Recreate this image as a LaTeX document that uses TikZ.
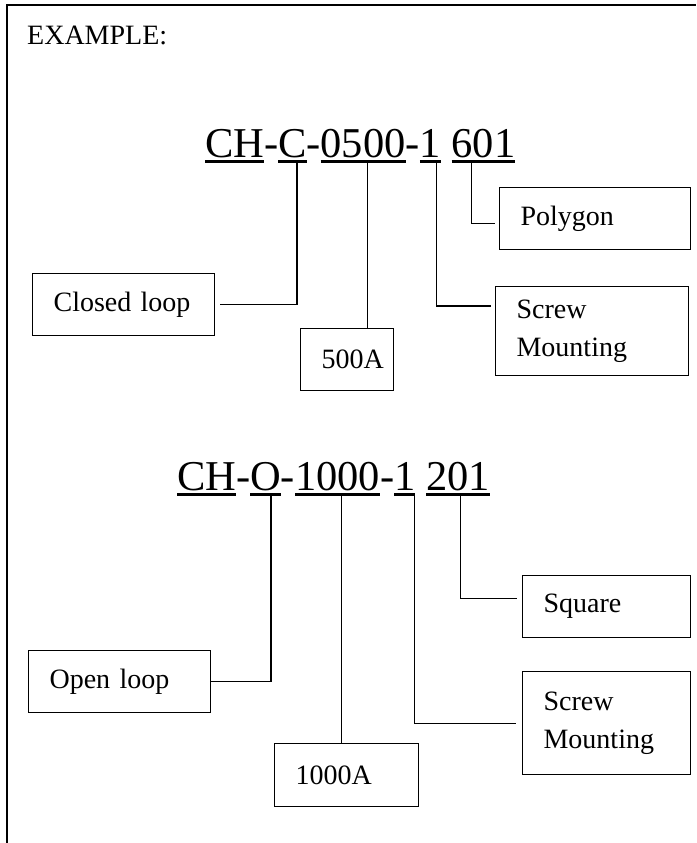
\documentclass[tikz,border=0pt]{standalone}
\usepackage{fontspec}
\setmainfont{Liberation Serif}
\usetikzlibrary{calc}
\begin{document}
\begin{tikzpicture}[x=1pt,y=-1pt,
  frame/.style={line width=2pt},
  lbl/.style={draw, line width=1.2pt, anchor=north west, inner ysep=0pt, inner xsep=21pt,
    align=left, font=\fontsize{28}{38}\selectfont},
  code/.style={anchor=base west, inner sep=0pt, outer sep=0pt,
    font=\fontsize{42.5}{50}\selectfont},
  ul/.style={line width=2.4pt},
  conn/.style={line width=1.2pt},
]
\useasboundingbox (0,0) rectangle (696,843);
\draw[frame] (6.5,843) -- (6.5,5) -- (696,5);
\node[anchor=base west, inner sep=0pt, font=\fontsize{28}{34}\selectfont] (title) at (27,45) {EXAMPLE:};

% ---------- first code ----------
\node[code] (a1) at (205,157) {CH};
\node[code] (a2) at (a1.base east) {-};
\node[code] (a3) at (a2.base east) {C};
\node[code] (a4) at (a3.base east) {-};
\node[code] (a5) at (a4.base east) {0500};
\node[code] (a6) at (a5.base east) {-};
\node[code] (a7) at (a6.base east) {1};
\node[code] (a8) at ([xshift=10.6pt]a7.base east) {601};
\foreach \n in {a1,a3,a5,a7,a8}
  \draw[ul] ([yshift=-4.5pt]\n.base west) -- ([yshift=-4.5pt]\n.base east);

\node[lbl, text width=149pt, minimum height=62pt] (poly) at (499,187) {Polygon};
\node[lbl, text width=140pt, minimum height=62pt] (cl) at (32,273) {Closed loop};
\node[lbl, text width=151pt, minimum height=89pt] (sm1) at (495,286) {Screw\\Mounting};
\node[lbl, text width=51pt, minimum height=62pt] (b500) at (300,328) {500A};

\coordinate (pC) at ($([yshift=-4.5pt]a3.base west)!0.66!([yshift=-4.5pt]a3.base east)$);
\coordinate (p0500) at ($([yshift=-4.5pt]a5.base west)!0.55!([yshift=-4.5pt]a5.base east)$);
\coordinate (p1a) at ($([yshift=-4.5pt]a7.base west)!0.77!([yshift=-4.5pt]a7.base east)$);
\coordinate (p601) at ($([yshift=-4.5pt]a8.base west)!0.31!([yshift=-4.5pt]a8.base east)$);
\draw[conn] (pC) |- ([xshift=5pt]cl.east);
\draw[conn] (p0500) -- (p0500 |- b500.north);
\draw[conn] (p1a) |- ([xshift=-4pt,yshift=-20pt]sm1.north west);
\draw[conn] (p601) |- ([xshift=-4pt,yshift=-5pt]poly.west);

% ---------- second code ----------
\node[code] (b1) at (177,490) {CH};
\node[code] (b2) at (b1.base east) {-};
\node[code] (b3) at (b2.base east) {O};
\node[code] (b4) at (b3.base east) {-};
\node[code] (b5) at (b4.base east) {1000};
\node[code] (b6) at (b5.base east) {-};
\node[code] (b7) at (b6.base east) {1};
\node[code] (b8) at ([xshift=10.6pt]b7.base east) {201};
\foreach \n in {b1,b3,b5,b7,b8}
  \draw[ul] ([yshift=-4.5pt]\n.base west) -- ([yshift=-4.5pt]\n.base east);

\node[lbl, text width=126pt, minimum height=62pt] (sq) at (522,575) {Square};
\node[lbl, text width=140pt, minimum height=62pt] (ol) at (28,650) {Open loop};
\node[lbl, text width=126pt, minimum height=103pt] (sm2) at (522,671) {Screw\\Mounting};
\node[lbl, text width=102pt, minimum height=63pt] (b1000) at (274,743) {1000A};

\coordinate (pO) at ($([yshift=-4.5pt]b3.base west)!0.68!([yshift=-4.5pt]b3.base east)$);
\coordinate (p1000) at ($([yshift=-4.5pt]b5.base west)!0.55!([yshift=-4.5pt]b5.base east)$);
\coordinate (p1b) at ($([yshift=-4.5pt]b7.base west)!0.95!([yshift=-4.5pt]b7.base east)$);
\coordinate (p201) at ($([yshift=-4.5pt]b8.base west)!0.54!([yshift=-4.5pt]b8.base east)$);
\draw[conn] (pO) |- (ol.east);
\draw[conn] (p1000) -- (p1000 |- b1000.north);
\draw[conn] (p1b) |- ([xshift=-6pt]sm2.west);
\draw[conn] (p201) |- ([xshift=-5pt,yshift=8pt]sq.west);
\end{tikzpicture}
\end{document}
